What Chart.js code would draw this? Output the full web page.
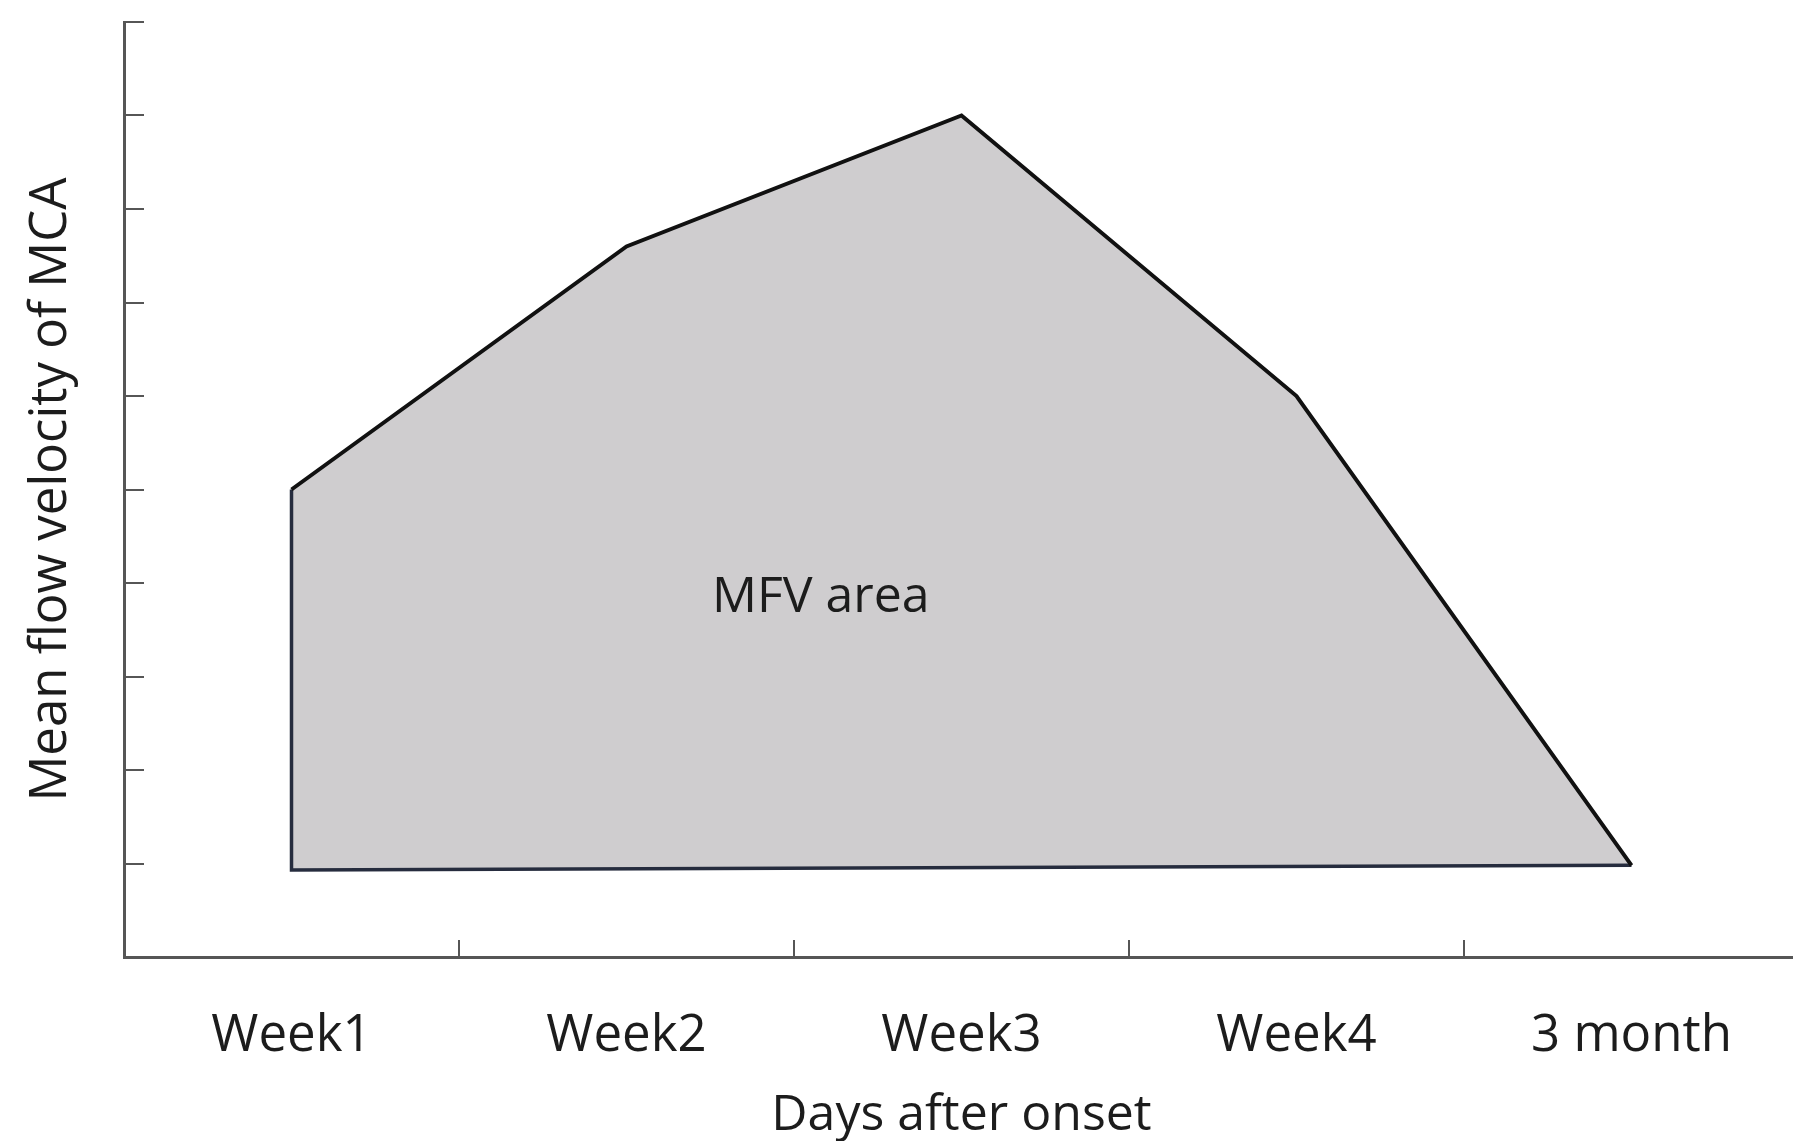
<!DOCTYPE html>
<html>
<head>
<meta charset="utf-8">
<script src="https://cdn.jsdelivr.net/npm/chart.js@4.4.1/dist/chart.umd.min.js"></script>
<style>
  html,body{margin:0;padding:0;background:#fff;overflow:hidden}
  #wrap{position:absolute;left:0;top:0;width:1865px;height:1141px}
</style>
</head>
<body>
<div id="wrap"><canvas id="c" width="1865" height="1141"></canvas></div>
<script>
// categories along the x axis (one band each)
const categories=['Week1','Week2','Week3','Week4','3 month'];
// upper edge of the MFV area, one value per category
const mfvUpper=[5.0,7.6,9.0,6.0,0.98];
// lower edge: straight line from first to last category
const mfvLower=[0.93,0.98];
const yTicks=[0,1,2,3,4,5,6,7,8,9,10];
const areaLabel='MFV area';
const areaLabelAt=[2.08,3.84];

const FONT='"Open Sans", sans-serif';
const TXT='#1c1c1c';
const AXIS='#565656';
const LABEL_PAD=66;

const mid=i=>i+0.5;
const lastIdx=categories.length-1;
const upperPts=mfvUpper.map((v,i)=>({x:mid(i),y:v}));
const shapePts=[{x:mid(0),y:mfvLower[0]}].concat(upperPts);
const leftBottomPts=[upperPts[0],{x:mid(0),y:mfvLower[0]},{x:mid(lastIdx),y:mfvLower[1]}];

// text inside the filled area
const areaText={id:'areaText',afterDatasetsDraw(chart){
  const {ctx,scales:{x,y}}=chart;
  ctx.save();
  ctx.font='50px '+FONT; ctx.fillStyle=TXT;
  ctx.textAlign='center'; ctx.textBaseline='middle';
  ctx.fillText(areaLabel,x.getPixelForValue(areaLabelAt[0]),y.getPixelForValue(areaLabelAt[1]));
  ctx.restore();
}};

// datasets with a lower index are painted on top, so the filled shape comes last
new Chart(document.getElementById('c'),{
  type:'line',
  data:{datasets:[
    {data:upperPts,fill:false,borderColor:'#111',borderWidth:4,
     borderJoinStyle:'miter',pointRadius:0,tension:0},
    {data:leftBottomPts,fill:false,borderColor:'#262c3e',borderWidth:3.5,
     borderJoinStyle:'miter',pointRadius:0,tension:0},
    {data:shapePts,fill:'shape',backgroundColor:'#cfcdcf',
     borderWidth:0,borderColor:'rgba(0,0,0,0)',pointRadius:0,tension:0}
  ]},
  options:{
    responsive:false,animation:false,
    layout:{padding:{top:22,right:0,left:0,bottom:0}},
    plugins:{legend:{display:false},tooltip:{enabled:false}},
    scales:{
      x:{type:'linear',min:0,max:categories.length,position:'bottom',
        afterFit:s=>{s.height=184;},
        ticks:{stepSize:0.5,autoSkip:false,maxRotation:0,minRotation:0,padding:LABEL_PAD,
          color:TXT,font:{family:FONT,size:51},
          callback:v=>Number.isInteger(v)?'':categories[Math.floor(v)]},
        grid:{drawOnChartArea:false,drawTicks:true,tickLength:-17,lineWidth:2,
          color:c=>(c.tick&&Number.isInteger(c.tick.value)&&c.tick.value>0&&c.tick.value<categories.length)?AXIS:'rgba(0,0,0,0)'},
        border:{display:true,color:AXIS,width:3},
        title:{display:true,text:'Days after onset',color:TXT,
          font:{family:FONT,size:50,lineHeight:1.02},padding:0}
      },
      y:{type:'linear',min:yTicks[0],max:yTicks[yTicks.length-1],position:'left',
        afterFit:s=>{s.width=124;},
        afterBuildTicks:s=>{s.ticks=yTicks.map(v=>({value:v}));},
        ticks:{display:false},
        grid:{drawOnChartArea:false,drawTicks:true,tickLength:-20,lineWidth:2,
          color:c=>(c.tick&&c.tick.value>0)?AXIS:'rgba(0,0,0,0)'},
        border:{display:true,color:AXIS,width:3},
        title:{display:true,text:'Mean flow velocity of MCA',color:TXT,
          font:{family:FONT,size:51,lineHeight:1.2},padding:{top:21,bottom:0}}
      }
    }
  },
  plugins:[areaText]
});
</script>
</body>
</html>
